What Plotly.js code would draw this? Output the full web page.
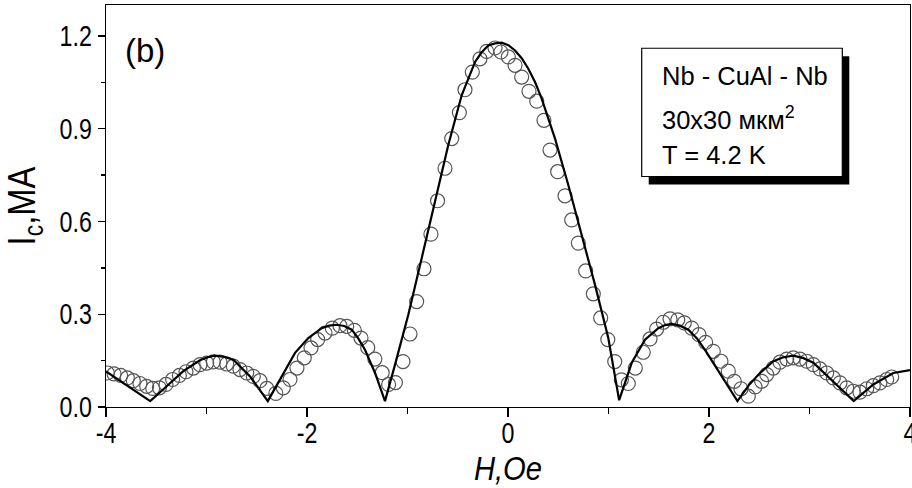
<!DOCTYPE html>
<html>
<head>
<meta charset="utf-8">
<script src="https://cdn.plot.ly/plotly-3.0.1.min.js"></script>
<style>html,body{margin:0;padding:0;background:#fff;}#chart{width:912px;height:488px;}</style>
</head>
<body>
<div id="chart"></div>
<script>
// Measured critical current (open circles)
const dataH = [-3.987,-3.920,-3.854,-3.788,-3.728,-3.662,-3.595,-3.535,-3.469,-3.403,-3.337,-3.270,-3.204,-3.131,-3.065,-2.998,-2.932,-2.866,-2.799,-2.733,-2.667,-2.600,-2.534,-2.468,
  -2.400,-2.310,-2.236,-2.169,-2.100,-2.027,-1.960,-1.894,-1.821,-1.748,-1.672,-1.605,-1.529,-1.463,-1.396,-1.325,-1.252,-1.188,-1.120,
  -1.045,-0.975,-0.909,-0.836,-0.767,-0.701,-0.627,-0.560,-0.484,-0.428,-0.355,-0.279,-0.212,-0.129,-0.070,0.003,0.070,0.136,0.209,0.286,0.358,0.418,0.494,0.567,0.634,0.700,0.773,0.849,0.922,0.993,1.062,1.128,
  1.197,1.267,1.346,1.413,1.479,1.545,1.612,1.689,1.754,1.828,1.900,1.967,2.043,2.119,2.192,2.252,2.318,2.391,2.458,2.524,
  2.574,2.640,2.706,2.773,2.839,2.905,2.972,3.038,3.104,3.171,3.237,3.303,3.370,3.436,3.502,3.569,3.635,3.701,3.768,3.818];
const dataIc = [0.110,0.107,0.102,0.094,0.085,0.076,0.067,0.060,0.062,0.073,0.089,0.102,0.114,0.126,0.137,0.142,0.146,0.145,0.139,0.132,0.121,0.110,0.099,0.085,
  0.060,0.044,0.062,0.089,0.126,0.159,0.191,0.218,0.239,0.255,0.263,0.261,0.248,0.223,0.192,0.155,0.111,0.073,0.079,
  0.147,0.236,0.341,0.447,0.559,0.667,0.772,0.868,0.952,1.026,1.083,1.126,1.150,1.161,1.148,1.132,1.105,1.067,1.021,0.989,0.927,0.831,0.761,0.683,0.605,0.530,0.440,0.366,0.288,0.218,0.147,0.088,
  0.076,0.126,0.177,0.220,0.252,0.274,0.285,0.282,0.272,0.255,0.234,0.209,0.180,0.148,0.116,0.083,0.059,0.035,0.065,0.083,
  0.105,0.126,0.145,0.155,0.159,0.155,0.148,0.137,0.123,0.110,0.094,0.078,0.062,0.051,0.048,0.059,0.069,0.078,0.089,0.097];

// Fit curve (solid line)
const fitH = [-4.000,-3.780,-3.560,-3.396,-3.231,-3.065,-2.990,-2.915,-2.820,-2.733,-2.567,-2.390,-2.252,-2.119,-1.987,-1.854,-1.780,-1.705,-1.630,-1.555,-1.490,-1.423,-1.323,-1.224,
  -1.124,-0.992,-0.859,-0.726,-0.594,-0.461,-0.328,-0.262,-0.196,-0.130,-0.063,0.004,0.070,0.136,0.202,0.270,0.335,0.468,0.600,0.733,0.866,0.998,1.106,
  1.231,1.363,1.496,1.563,1.629,1.710,1.794,1.880,1.960,2.126,2.283,2.395,2.507,2.640,2.740,2.839,2.940,3.038,3.237,3.440,3.635,3.834,4.000];
const fitIc = [0.115,0.067,0.019,0.067,0.116,0.151,0.161,0.166,0.162,0.153,0.099,0.019,0.099,0.175,0.223,0.255,0.263,0.266,0.262,0.250,0.222,0.185,0.110,0.019,
  0.137,0.298,0.481,0.664,0.847,1.008,1.116,1.147,1.169,1.176,1.178,1.170,1.153,1.128,1.094,1.050,0.997,0.868,0.718,0.556,0.395,0.223,0.022,
  0.143,0.218,0.255,0.265,0.269,0.263,0.250,0.222,0.185,0.099,0.019,0.070,0.110,0.148,0.161,0.166,0.158,0.143,0.083,0.019,0.073,0.110,0.119];

const xTickVals = [-4,-2,0,2,4];
const xTickText = ['-4','-2','0','2','4'];
const yTickVals = [0.0,0.3,0.6,0.9,1.2];
const yTickText = ['0.0','0.3','0.6','0.9','1.2'];
const legendLines = ['Nb - CuAl - Nb','30x30 мкм<sup>2</sup>','T = 4.2 K'];
const panelLabel = '(b)';

const FONT = '"Liberation Sans", Arial, sans-serif';

const traces = [
  {x: dataH, y: dataIc, type: 'scatter', mode: 'markers', cliponaxis: true,
   marker: {symbol: 'circle-open', size: 14, color: '#555555', line: {width: 1.2, color: '#555555'}},
   showlegend: false},
  {x: fitH, y: fitIc, type: 'scatter', mode: 'lines',
   line: {color: '#000', width: 2.2}, showlegend: false}
];

// Box geometry in paper coordinates
const bx0 = 0.6663, bx1 = 0.9158, by0 = 0.5734, by1 = 0.8924;
const sdx = 0.0087, sdy = 0.0199;

const layout = {
  width: 912, height: 488,
  margin: {l: 106, r: 2, t: 5, b: 80.5, pad: 0},
  paper_bgcolor: '#fff', plot_bgcolor: '#fff',
  font: {family: FONT, color: '#000'},
  xaxis: {
    range: [-4, 4], tickmode: 'array', tickvals: xTickVals, ticktext: xTickText,
    ticks: 'outside', ticklen: 9, tickwidth: 1.3, tickcolor: '#000',
    minor: {dtick: 1, ticks: 'outside', ticklen: 6, tickwidth: 1.3, tickcolor: '#000'},
    showline: true, linecolor: '#000', linewidth: 1.4, mirror: true,
    showgrid: false, zeroline: false, ticklabeloverflow: 'allow',
    ticklabelstandoff: -9,
    tickfont: {family: FONT, size: 29, color: '#000'},
    title: {text: '<i>H,Oe</i>', font: {family: FONT, size: 34, color: '#000'}, standoff: 0}
  },
  yaxis: {
    range: [0, 1.3], tickmode: 'array', tickvals: yTickVals, ticktext: yTickText,
    ticks: 'outside', ticklen: 7, tickwidth: 1.3, tickcolor: '#000',
    minor: {dtick: 0.15, tick0: 0, ticks: 'outside', ticklen: 4, tickwidth: 1.3, tickcolor: '#000'},
    showline: true, linecolor: '#000', linewidth: 1.4, mirror: true,
    showgrid: false, zeroline: false,
    tickfont: {family: FONT, size: 29, color: '#000'},
    title: {text: 'I<sub>c</sub>,MA', font: {family: FONT, size: 39, color: '#000'}, standoff: 9}
  },
  shapes: [
    {type: 'rect', xref: 'paper', yref: 'paper', x0: bx0 + sdx, x1: bx1 + sdx, y0: by0 - sdy, y1: by1 - sdy,
     fillcolor: '#000', line: {width: 0}},
    {type: 'rect', xref: 'paper', yref: 'paper', x0: bx0, x1: bx1, y0: by0, y1: by1,
     fillcolor: '#fff', line: {color: '#000', width: 1.2}}
  ],
  annotations: [
    {text: panelLabel, xref: 'paper', yref: 'paper', x: 0.0485, y: 0.888, xanchor: 'center', yanchor: 'middle',
     showarrow: false, font: {family: FONT, size: 33, color: '#000'}},
    {text: legendLines[0], xref: 'paper', yref: 'paper', x: 0.6885, y: 0.823, xanchor: 'left', yanchor: 'middle',
     showarrow: false, font: {family: FONT, size: 25.5, color: '#000'}},
    {text: legendLines[1], xref: 'paper', yref: 'paper', x: 0.6885, y: 0.72, xanchor: 'left', yanchor: 'middle',
     showarrow: false, font: {family: FONT, size: 25.5, color: '#000'}},
    {text: legendLines[2], xref: 'paper', yref: 'paper', x: 0.6885, y: 0.627, xanchor: 'left', yanchor: 'middle',
     showarrow: false, font: {family: FONT, size: 25.5, color: '#000'}}
  ]
};

// Narrow the axis lettering horizontally (the reference uses a condensed face)
function squeeze(sel, f) {
  document.querySelectorAll(sel).forEach(function (el) {
    const x = parseFloat(el.getAttribute('x')) || 0;
    const t = el.getAttribute('transform') || '';
    el.setAttribute('transform', t + ' translate(' + x + ',0) scale(' + f + ',1) translate(' + (-x) + ',0)');
  });
}

Plotly.newPlot('chart', traces, layout, {displayModeBar: false, staticPlot: true}).then(function () {
  squeeze('#chart .xtick text', 0.8);
  squeeze('#chart .ytick text', 0.8);
  squeeze('#chart .xtitle', 0.86);
  squeeze('#chart .ytitle', 0.84);
});
</script>
</body>
</html>
